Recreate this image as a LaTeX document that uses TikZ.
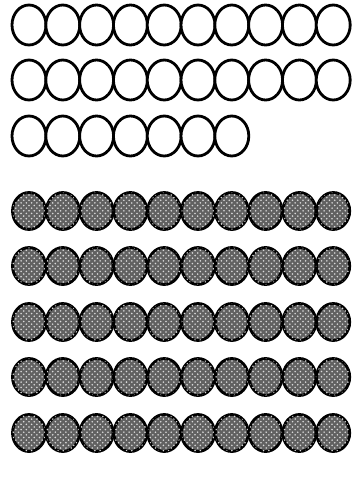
\documentclass[tikz,border=0pt]{standalone}
\usetikzlibrary{patterns}
\begin{document}
\begin{tikzpicture}[x=0.02cm, y=-0.02cm, line width=1.6pt,
  whiteoval/.style={draw=black, fill=white},
  grayoval/.style={draw=black, fill=black!62,
    postaction={pattern=crosshatch dots, pattern color=white!85!black}}]
\useasboundingbox (0,0) rectangle (353,477);

% white rows
\foreach \y/\n in {25/10, 80/10, 136/7}{
  \foreach \i in {1,...,\n}{
    \draw[whiteoval] ({29+33.8*(\i-1)},\y) ellipse [x radius=17, y radius=20];
  }
}

% gray rows
\foreach \y in {211, 266, 322, 377, 433}{
  \foreach \i in {1,...,10}{
    \draw[grayoval] ({29+33.8*(\i-1)},\y) ellipse [x radius=16.5, y radius=18.5];
  }
}

\end{tikzpicture}
\end{document}
